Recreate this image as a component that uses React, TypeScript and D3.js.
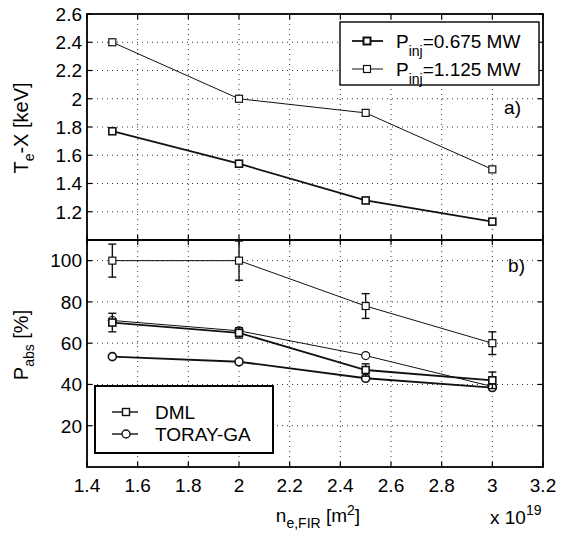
import React, { useEffect, useRef } from "react";
import * as d3 from "d3";

// electron density (x 10^19 m^-2)
const densities = [1.5, 2.0, 2.5, 3.0];

// panel a) T_e-X [keV]
const teLow = [1.77, 1.54, 1.28, 1.13]; // P_inj = 0.675 MW
const teHigh = [2.4, 2.0, 1.9, 1.5]; // P_inj = 1.125 MW

// panel b) P_abs [%]
const dmlLow = [70, 65, 47, 42];
const dmlLowErr = [4.5, 2.5, 3, 4];
const dmlHigh = [100, 100, 78, 60];
const dmlHighErr = [8, 9.5, 6, 5.5];
const torayLow = [53.5, 51, 43, 38.5];
const torayHigh = [71, 66, 54, 39];

const xTicks = [1.4, 1.6, 1.8, 2.0, 2.2, 2.4, 2.6, 2.8, 3.0, 3.2];
const teTicks = [1.2, 1.4, 1.6, 1.8, 2.0, 2.2, 2.4, 2.6];
const absTicks = [20, 40, 60, 80, 100];

const FONT = "'Liberation Sans', Arial, Helvetica, sans-serif";
const fmt = (d: number) => String(+d.toFixed(1));

export default function App() {
  const ref = useRef<SVGSVGElement>(null);

  useEffect(() => {
    const svg = d3.select(ref.current);
    svg.selectAll("*").remove();
    svg.attr("font-family", FONT).attr("font-size", 19);

    const left = 87;
    const right = 543;
    const x = d3.scaleLinear().domain([1.4, 3.2]).range([left, right]);
    const yTop = d3.scaleLinear().domain([1.0, 2.6]).range([240, 14]);
    const yBot = d3.scaleLinear().domain([0, 110]).range([467, 240]);

    function panel(y: d3.ScaleLinear<number, number>, yTicks: number[], showX: boolean) {
      const g = svg.append("g");
      const [y0, y1] = y.range();
      // grid
      g.selectAll(".gx")
        .data(xTicks.slice(1, -1))
        .join("line")
        .attr("x1", d => x(d))
        .attr("x2", d => x(d))
        .attr("y1", y0)
        .attr("y2", y1)
        .attr("stroke", "#333")
        .attr("stroke-width", 1)
        .attr("stroke-dasharray", "1 4");
      g.selectAll(".gy")
        .data(yTicks.filter(d => y(d) > y1 + 1))
        .join("line")
        .attr("x1", left)
        .attr("x2", right)
        .attr("y1", d => y(d))
        .attr("y2", d => y(d))
        .attr("stroke", "#333")
        .attr("stroke-width", 1)
        .attr("stroke-dasharray", "1 4");
      // tick marks inside on all sides
      xTicks.forEach(t => {
        g.append("line").attr("x1", x(t)).attr("x2", x(t)).attr("y1", y0).attr("y2", y0 - 5).attr("stroke", "#000").attr("stroke-width", 1.2);
        g.append("line").attr("x1", x(t)).attr("x2", x(t)).attr("y1", y1).attr("y2", y1 + 5).attr("stroke", "#000").attr("stroke-width", 1.2);
      });
      yTicks.forEach(t => {
        g.append("line").attr("x1", left).attr("x2", left + 5).attr("y1", y(t)).attr("y2", y(t)).attr("stroke", "#000").attr("stroke-width", 1.2);
        g.append("line").attr("x1", right).attr("x2", right - 5).attr("y1", y(t)).attr("y2", y(t)).attr("stroke", "#000").attr("stroke-width", 1.2);
      });
      // frame
      g.append("rect")
        .attr("x", left)
        .attr("y", y1)
        .attr("width", right - left)
        .attr("height", y0 - y1)
        .attr("fill", "none")
        .attr("stroke", "#000")
        .attr("stroke-width", 1.8);
      // labels
      g.selectAll(".yl")
        .data(yTicks)
        .join("text")
        .attr("x", left - 5)
        .attr("y", d => y(d))
        .attr("dy", "0.36em")
        .attr("text-anchor", "end")
        .text(d => fmt(d));
      if (showX) {
        g.selectAll(".xl")
          .data(xTicks)
          .join("text")
          .attr("x", d => x(d))
          .attr("y", y0 + 25)
          .attr("text-anchor", "middle")
          .text(d => fmt(d));
      }
      return g;
    }

    const gTop = panel(yTop, teTicks, false);
    const gBot = panel(yBot, absTicks, true);

    const line = (y: d3.ScaleLinear<number, number>) =>
      d3.line<number>().x((_, i) => x(densities[i])).y(d => y(d));

    function series(g: any, y: any, vals: number[], width: number, marker: string, errs?: number[]) {
      g.append("path")
        .attr("d", line(y)(vals))
        .attr("fill", "none")
        .attr("stroke", "#111")
        .attr("stroke-width", width);
      if (errs) {
        vals.forEach((v, i) => {
          const cx = x(densities[i]);
          const a = y(v + errs[i]);
          const b = y(v - errs[i]);
          g.append("line").attr("x1", cx).attr("x2", cx).attr("y1", a).attr("y2", b).attr("stroke", "#111").attr("stroke-width", 1.4);
          [a, b].forEach(yy =>
            g.append("line").attr("x1", cx - 4).attr("x2", cx + 4).attr("y1", yy).attr("y2", yy).attr("stroke", "#111").attr("stroke-width", 1.4)
          );
        });
      }
      vals.forEach((v, i) => drawMarker(g, x(densities[i]), y(v), marker, width > 1.4 ? 1.6 : 1.2));
    }

    function drawMarker(g: any, cx: number, cy: number, marker: string, sw: number) {
      if (marker === "square") {
        g.append("rect")
          .attr("x", cx - 3.5)
          .attr("y", cy - 3.5)
          .attr("width", 7)
          .attr("height", 7)
          .attr("fill", "#fff")
          .attr("stroke", "#111")
          .attr("stroke-width", sw);
      } else {
        g.append("circle")
          .attr("cx", cx)
          .attr("cy", cy)
          .attr("r", 4)
          .attr("fill", "#fff")
          .attr("stroke", "#111")
          .attr("stroke-width", sw);
      }
    }

    series(gTop, yTop, teHigh, 1, "square");
    series(gTop, yTop, teLow, 1.8, "square");

    series(gBot, yBot, torayHigh, 1, "circle");
    series(gBot, yBot, torayLow, 1.8, "circle");
    series(gBot, yBot, dmlHigh, 1, "square", dmlHighErr);
    series(gBot, yBot, dmlLow, 1.8, "square", dmlLowErr);

    // legend a)
    const la = gTop.append("g");
    la.append("rect").attr("x", 340).attr("y", 22).attr("width", 199).attr("height", 63).attr("fill", "#fff").attr("stroke", "#000").attr("stroke-width", 1.4);
    [
      { v: "=0.675 MW", w: 1.8, yy: 41 },
      { v: "=1.125 MW", w: 1, yy: 69 },
    ].forEach(it => {
      la.append("line").attr("x1", 352).attr("x2", 383).attr("y1", it.yy).attr("y2", it.yy).attr("stroke", "#111").attr("stroke-width", it.w);
      drawMarker(la, 367, it.yy, "square", it.w > 1.4 ? 2 : 1.2);
      const t = la.append("text").attr("x", 396).attr("y", it.yy + 7);
      t.append("tspan").text("P");
      t.append("tspan").attr("font-size", 14).attr("dy", 8).text("inj");
      t.append("tspan").attr("dy", -8).text(it.v);
    });
    gTop.append("text").attr("x", 521).attr("y", 114).attr("text-anchor", "end").text("a)");

    // legend b)
    const lb = gBot.append("g");
    lb.append("rect").attr("x", 95).attr("y", 386).attr("width", 178).attr("height", 67).attr("fill", "#fff").attr("stroke", "#000").attr("stroke-width", 2);
    [
      { label: "DML", m: "square", yy: 412 },
      { label: "TORAY-GA", m: "circle", yy: 434 },
    ].forEach(it => {
      lb.append("line").attr("x1", 112).attr("x2", 138).attr("y1", it.yy).attr("y2", it.yy).attr("stroke", "#111").attr("stroke-width", 1.4);
      drawMarker(lb, 126, it.yy, it.m, 1.4);
      lb.append("text").attr("x", 155).attr("y", it.yy + 7).text(it.label);
    });
    gBot.append("text").attr("x", 525).attr("y", 272).attr("text-anchor", "end").text("b)");

    // axis titles
    const tt = svg.append("text").attr("font-size", 20).attr("transform", "translate(28,128) rotate(-90)").attr("text-anchor", "middle");
    tt.append("tspan").text("T");
    tt.append("tspan").attr("font-size", 14).attr("dy", 6).text("e");
    tt.append("tspan").attr("dy", -6).text("-X [keV]");

    const tb = svg.append("text").attr("font-size", 20).attr("transform", "translate(28,345) rotate(-90)").attr("text-anchor", "middle");
    tb.append("tspan").text("P");
    tb.append("tspan").attr("font-size", 14).attr("dy", 6).text("abs");
    tb.append("tspan").attr("dy", -6).text(" [%]");

    const tx = svg.append("text").attr("x", 318).attr("y", 522).attr("text-anchor", "middle");
    tx.append("tspan").text("n");
    tx.append("tspan").attr("font-size", 14).attr("dy", 6).text("e,FIR");
    tx.append("tspan").attr("dy", -6).text(" [m");
    tx.append("tspan").attr("font-size", 14).attr("dy", -7).text("2");
    tx.append("tspan").attr("dy", 7).text("]");

    const te = svg.append("text").attr("x", 490).attr("y", 524);
    te.append("tspan").text("x 10");
    te.append("tspan").attr("font-size", 14).attr("dy", -9).text("19");
  }, []);

  return (
    <svg
      ref={ref}
      width={563}
      height={538}
      style={{ position: "absolute", left: 0, top: 0, background: "#fff" }}
    />
  );
}
